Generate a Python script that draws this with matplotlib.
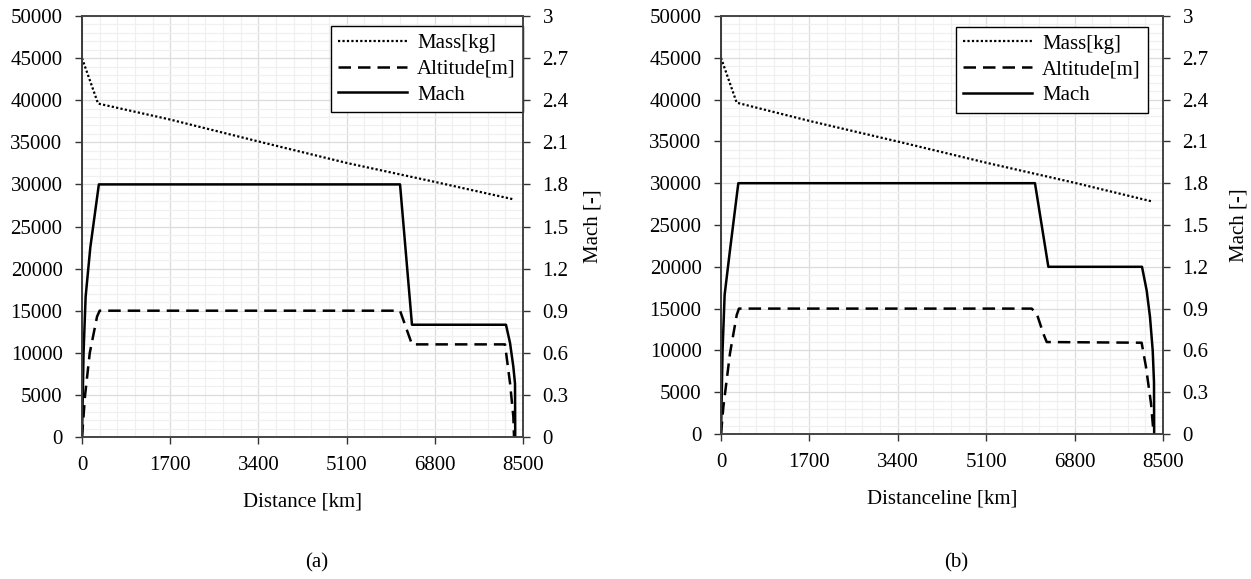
import matplotlib
matplotlib.use("Agg")
import matplotlib.pyplot as plt
import numpy as np
from matplotlib.ticker import MultipleLocator

plt.rcParams['font.family'] = ['Liberation Serif', 'DejaVu Serif']
plt.rcParams['font.size'] = 15

# ---- data (a) ----
mass_x_a = [0, 310, 1700, 3400, 5100, 6800, 8300]
mass_a = [45000, 39600, 37700, 35100, 32550, 30300, 28250]

alt_x_a = [0, 60, 150, 290, 340, 6130, 6360, 8153, 8250, 8314, 8327]
alt_a = [0, 5000, 10000, 14300, 15000, 15000, 11000, 11000, 6400, 2400, 0]

mach_x_a = [0, 30, 70, 160, 325, 6130, 6360, 8172, 8250, 8314, 8346, 8350]
mach_a = [0, 0.6, 1.0, 1.35, 1.8, 1.8, 0.8, 0.8, 0.67, 0.5, 0.38, 0]

# ---- data (b) ----
mass_x_b = [0, 302, 1700, 3410, 5100, 6800, 8308]
mass_b = [45000, 39630, 37450, 34970, 32450, 30050, 27790]

alt_x_b = [0, 46, 173, 302, 345, 5975, 6072, 6199, 6264, 8089, 8172, 8269, 8320]
alt_b = [0, 3270, 9650, 14230, 15000, 15000, 14400, 12000, 11000, 10920, 8050, 3670, 0]

mach_x_b = [0, 30, 70, 173, 333, 6038, 6295, 8096, 8186, 8250, 8302, 8327, 8330]
mach_b = [0, 0.6, 1.0, 1.32, 1.8, 1.8, 1.2, 1.2, 1.03, 0.84, 0.6, 0.37, 0]

x_ticks = [0, 1700, 3400, 5100, 6800, 8500]
mach_ticks = [0, 0.3, 0.6, 0.9, 1.2, 1.5, 1.8, 2.1, 2.4, 2.7, 3.0]
mach_labels = ['0', '0.3', '0.6', '0.9', '1.2', '1.5', '1.8', '2.1', '2.4', '2.7', '3']


def panel(rect, mx, m, ax_, a, hx, h, xlabel, legend_anchor, ylabelpad):
    ax = fig.add_axes(rect)
    ax2 = ax.twinx()
    l1, = ax.plot(mx, m, color='black', linestyle=(0, (1, 1)), lw=1.6, label='Mass[kg]')
    l2, = ax.plot(ax_, a, color='black', linestyle=(0, (5, 2.8)), lw=1.8, label='Altitude[m]')
    l3, = ax2.plot(hx, h, color='black', linestyle='-', lw=1.8, label='Mach')

    ax.set_xlim(0, 8500)
    ax.set_ylim(0, 50000)
    ax2.set_ylim(0, 3)
    ax.set_xticks(x_ticks)
    ax.xaxis.set_minor_locator(MultipleLocator(340))
    ax.set_yticks(np.arange(0, 50001, 5000))
    ax.yaxis.set_minor_locator(MultipleLocator(1000))
    ax2.set_yticks(mach_ticks)
    ax2.set_yticklabels(mach_labels)

    ax.grid(which='major', color='#dcdcdc', lw=0.9)
    ax.grid(which='minor', color='#f0f0f0', lw=0.9)
    ax.set_axisbelow(True)

    for a_ in (ax, ax2):
        a_.tick_params(which='major', direction='out', length=5, width=1, pad=9, color='#333333')
        a_.tick_params(which='minor', length=0)
        for s in a_.spines.values():
            s.set_color('#444444')
            s.set_linewidth(1.2)
    ax.spines['left'].set_color('black')

    ax.set_xlabel(xlabel, labelpad=12)
    ax2.set_ylabel('Mach [-]', labelpad=ylabelpad)

    leg = ax.legend(handles=[l1, l2, l3], loc='upper right', bbox_to_anchor=legend_anchor,
                    frameon=True, fancybox=False, edgecolor='black', framealpha=1,
                    handlelength=3.3, handletextpad=0.5, labelspacing=0.3,
                    borderpad=0.35, borderaxespad=0)
    leg.get_frame().set_linewidth(1.0)
    return ax


fig = plt.figure(figsize=(12.51, 5.79), dpi=100)

panel([82 / 1251, 1 - 437 / 579, 441 / 1251, 421 / 579],
      mass_x_a, mass_a, alt_x_a, alt_a, mach_x_a, mach_a,
      'Distance [km]', (1.0, 0.976), 11)
panel([721 / 1251, 1 - 434 / 579, 442 / 1251, 418 / 579],
      mass_x_b, mass_b, alt_x_b, alt_b, mach_x_b, mach_b,
      'Distanceline [km]', (0.966, 0.974), 15)

fig.text(317 / 1251, 1 - 563 / 579, '(a)', ha='center', va='center')
fig.text(956 / 1251, 1 - 563 / 579, '(b)', ha='center', va='center')

fig.savefig('out.png', dpi=100)
